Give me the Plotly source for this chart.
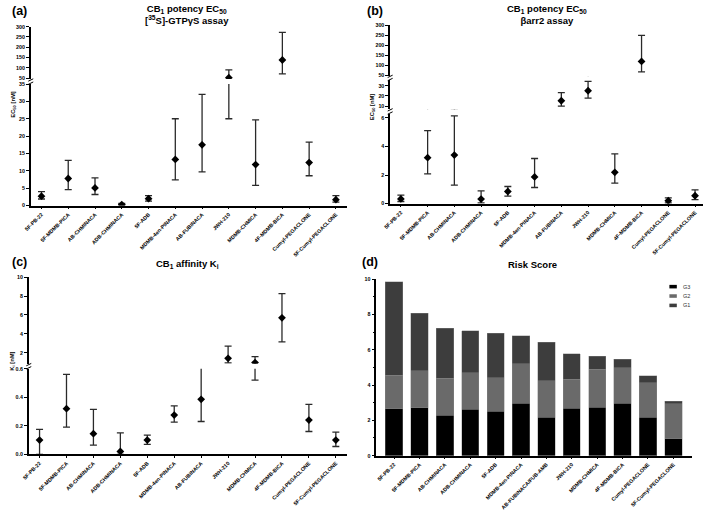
import plotly.graph_objects as go

W, H = 709, 513

# ---- data ----
compounds = ["5F-PB-22", "5F-MDMB-PICA", "AB-CHMINACA", "ADB-CHMINACA", "5F-ADB",
             "MDMB-4en-PINACA", "AB-FUBINACA", "JWH-210", "MDMB-CHMICA",
             "4F-MDMB-BICA", "Cumyl-PEGACLONE", "5F-Cumyl-PEGACLONE"]

# (a) [35S]-GTPgS EC50 (nM): mean, lower and upper CI
gtp_mean = [2.7, 7.8, 5.1, 0.3, 2.0, 13.3, 17.5, 52, 11.8, 138, 12.4, 1.7]
gtp_low = [1.9, 4.6, 3.2, 0.1, 1.3, 7.4, 9.7, 25, 5.8, 70, 8.6, 1.0]
gtp_high = [4.0, 13.0, 8.0, 0.6, 2.9, 25.0, 32.0, 90, 24.7, 272, 18.3, 2.9]

# (b) barr2 EC50 (nM)
barr_mean = [0.33, 3.22, 3.4, 0.32, 0.85, 1.87, 15.3, 25.1, 2.19, 120, 0.2, 0.55]
barr_low = [0.15, 2.08, 1.3, 0.05, 0.53, 1.13, 10.0, 17.8, 1.43, 68, 0.05, 0.28]
barr_high = [0.6, 5.12, 6.15, 0.9, 1.2, 3.16, 23.2, 34.3, 3.49, 250, 0.4, 0.97]

# (c) Ki (nM)
ki_mean = [0.1, 0.32, 0.145, 0.02, 0.1, 0.275, 0.385, 1.42, 0.97, 5.7, 0.24, 0.1]
ki_low = [0.0, 0.19, 0.065, 0.0, 0.07, 0.225, 0.23, 0.95, 0.52, 3.15, 0.16, 0.055]
ki_high = [0.175, 0.56, 0.315, 0.15, 0.135, 0.34, 0.65, 2.7, 1.6, 8.25, 0.35, 0.155]

# (d) risk score
risk_compounds = ["5F-PB-22", "5F-MDMB-PICA", "AB-CHMINACA", "ADB-CHMINACA", "5F-ADB",
                  "MDMB-4en-PINACA", "AB-FUBINACA/FUB-AMB", "JWH-210", "MDMB-CHMICA",
                  "4F-MDMB-BICA", "Cumyl-PEGACLONE", "5F-Cumyl-PEGACLONE"]
g3 = [2.65, 2.72, 2.3, 2.63, 2.52, 2.97, 2.18, 2.67, 2.74, 2.97, 2.18, 0.97]
g2 = [1.9, 2.1, 2.07, 2.07, 1.9, 2.22, 2.06, 1.66, 2.16, 2.01, 1.96, 1.96]
g1 = [5.3, 3.25, 2.85, 2.37, 2.5, 1.6, 2.18, 1.43, 0.73, 0.49, 0.38, 0.15]
groups = ["G3", "G2", "G1"]
group_colors = ["#000000", "#6a6a6a", "#3d3d3d"]

FONT = "Arial, Liberation Sans, sans-serif"


def fx(px):
    return px / W


def fy(py):
    return 1 - py / H


def err_trace(mean, low, high, xa, ya):
    return go.Scatter(
        x=compounds, y=mean, mode="markers", xaxis=xa, yaxis=ya, showlegend=False,
        marker=dict(symbol="diamond", size=6, color="black"),
        error_y=dict(type="data", symmetric=False,
                     array=[h - m for h, m in zip(high, mean)],
                     arrayminus=[m - l for m, l in zip(mean, low)],
                     color="#2a2a2a", thickness=1.3, width=3.5))


fig = go.Figure()

# (a) two segments
fig.add_trace(err_trace(gtp_mean, gtp_low, gtp_high, "x", "y"))
fig.add_trace(err_trace(gtp_mean, gtp_low, gtp_high, "x", "y2"))
# (b) three segments
fig.add_trace(err_trace(barr_mean, barr_low, barr_high, "x2", "y3"))
fig.add_trace(err_trace(barr_mean, barr_low, barr_high, "x2", "y4"))
fig.add_trace(err_trace(barr_mean, barr_low, barr_high, "x2", "y5"))
# (c) two segments
fig.add_trace(err_trace(ki_mean, ki_low, ki_high, "x3", "y6"))
fig.add_trace(err_trace(ki_mean, ki_low, ki_high, "x3", "y7"))

# (d) stacked bars
for name, vals, col in zip(groups, [g3, g2, g1], group_colors):
    fig.add_trace(go.Bar(x=risk_compounds, y=vals, name=name, marker_color=col,
                         marker_line=dict(color="#8a8a8a", width=0.4),
                         width=0.68, xaxis="x4", yaxis="y8", showlegend=False))

tick_font = dict(family=FONT, size=5.3, color="black", weight="bold")


def xax(d0, d1, anchor, rng, cats):
    return dict(domain=[fx(d0), fx(d1)], anchor=anchor, type="category",
                categoryorder="array", categoryarray=cats, range=rng,
                showline=True, linecolor="black", linewidth=1.6,
                ticks="outside", ticklen=2, tickwidth=1, tickcolor="black",
                tickangle=-45, tickfont=tick_font, showgrid=False, zeroline=False,
                fixedrange=True)


def yax(top, bottom, anchor, rng, tv, tt=None, minor=None):
    d = dict(domain=[fy(bottom), fy(top)], anchor=anchor, range=rng,
             showline=True, linecolor="black", linewidth=1.6,
             ticks="outside", ticklen=3, tickwidth=1, tickcolor="black",
             tickvals=tv, tickfont=tick_font, showgrid=False, zeroline=False)
    if tt is not None:
        d["ticktext"] = tt
    if minor is not None:
        d["minor"] = minor
    return d


fig.update_layout(
    width=W, height=H, margin=dict(l=0, r=0, t=0, b=0),
    paper_bgcolor="white", plot_bgcolor="white",
    barmode="stack", font=dict(family=FONT, color="black"), showlegend=False,
    xaxis=xax(24, 343, "y", [-0.4, 11.4], compounds),
    yaxis=yax(82, 205, "x", [0, 35], [0, 5, 10, 15, 20, 25, 30, 35]),
    yaxis2=yax(24, 77, "x", [45, 300], [50, 100, 150, 200, 250, 300]),
    xaxis2=xax(387, 703, "y3", [-0.4, 11.3], compounds),
    yaxis3=yax(112, 203, "x2", [0, 6.3], [0, 2, 4, 6]),
    yaxis4=yax(77.5, 107.5, "x2", [7, 36], [10, 20, 30]),
    yaxis5=yax(22.7, 74.3, "x2", [45, 300], [50, 100, 150, 200, 250, 300]),
    xaxis3=xax(22, 343, "y6", [-0.4, 11.4], compounds),
    yaxis6=yax(370, 456.7, "x3", [0, 0.6], [0, 0.2, 0.4, 0.6], ["0.0", "0.2", "0.4", "0.6"]),
    yaxis7=yax(277.3, 365, "x3", [0.85, 10], [2, 4, 6, 8, 10]),
    xaxis4=xax(373, 692, "y8", [-0.7, 11.74], risk_compounds),
    yaxis8=yax(279.3, 458, "x4", [0, 10], [0, 2, 4, 6, 8, 10],
               minor=dict(dtick=1, ticklen=2, tickcolor="black", ticks="outside")),
)

ann = []


def text(x, y, s, size, angle=0, xanchor="center", weight="bold", color="black"):
    ann.append(dict(x=fx(x), y=fy(y), xref="paper", yref="paper", text=s, showarrow=False,
                    xanchor=xanchor, yanchor="middle", textangle=angle,
                    font=dict(family=FONT, size=size, color=color, weight=weight)))


text(3, 8, "(a)", 12.5, xanchor="left")
text(362, 8, "(b)", 12.5, xanchor="left")
text(3, 262, "(c)", 12.5, xanchor="left")
text(357, 262, "(d)", 12.5, xanchor="left")
text(182, 11.5, "CB<sub>1</sub> potency EC<sub>50</sub><br>[<sup>35</sup>S]-GTPγS assay", 9.5)
text(545, 11.5, "CB<sub>1</sub> potency EC<sub>50</sub><br>βarr2 assay", 9.5)
text(182, 264, "CB<sub>1</sub> affinity K<sub>i</sub>", 9.5)
text(531, 265, "Risk Score", 9.5)
text(7, 103, "EC<sub>50</sub> [nM]", 5.8, angle=-90)
text(369, 105, "EC<sub>50</sub> [nM]", 5.8, angle=-90)
text(6, 362, "K<sub>i</sub> [nM]", 5.8, angle=-90)

# compact legend of panel (d): keys plus labels
shapes = []
for i, (name, col) in enumerate(zip(groups, group_colors)):
    yc = 287 + i * 9.5
    shapes.append(dict(type="rect", xref="paper", yref="paper",
                       x0=fx(669), x1=fx(676.5), y0=fy(yc + 1.8), y1=fy(yc - 1.8),
                       fillcolor=col, line=dict(width=0)))
    text(681, yc, name, 5.5, xanchor="left", weight="normal", color="#333")
fig.update_layout(annotations=ann)

# axis break marks
for xpx, ypx in [(24, 79.5), (387, 75.8), (387, 109.7), (22, 367.5)]:
    for dy in (-1.6, 1.6):
        shapes.append(dict(type="line", xref="paper", yref="paper",
                           x0=fx(xpx - 2.5), y0=fy(ypx + dy + 1.2),
                           x1=fx(xpx + 2.5), y1=fy(ypx + dy - 1.2),
                           line=dict(color="black", width=1)))
fig.update_layout(shapes=shapes)

# drop the default page margin so the figure sits at the window corner
fig.write_html("out.html", config={"displayModeBar": False},
               post_script="document.body.style.margin='0';")
